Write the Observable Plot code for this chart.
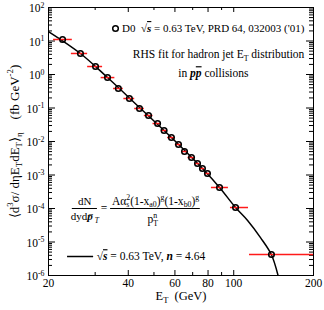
<!DOCTYPE html>
<html><head><meta charset="utf-8">
<script src="https://cdn.jsdelivr.net/npm/d3@7"></script>
<script src="https://cdn.jsdelivr.net/npm/@observablehq/plot@0.6"></script>
<style>body{margin:0;background:#fff}</style>
</head><body><div id="chart"></div>
<script>
// D0 sqrt(s)=0.63 TeV jet E_T distribution
const etCenter = [22.6, 26.4, 30.1, 33.4, 36.7, 40.4, 44.1, 47.7, 51.6, 54.6, 58.2, 61.9, 65.2, 69.3, 73.0, 76.2, 79.6, 88.4, 101.6, 138.8];
const etLow    = [20.9, 24.4, 28.1, 31.6, 35.2, 38.5, 42.3, 46.0, 49.6, 53.3, 56.3, 60.2, 63.6, 67.2, 71.1, 74.6, 77.8, 82.4, 97.2, 114.7];
const etHigh   = [24.6, 28.1, 32.0, 35.6, 38.3, 42.3, 46.0, 49.6, 53.3, 56.3, 60.2, 63.6, 67.2, 71.1, 74.6, 77.8, 81.6, 95.5, 113.7, 200];
const crossSec = [11.1, 4.24, 1.73, 0.81, 0.382, 0.192, 0.0966, 0.0597, 0.0344, 0.0213, 0.01315, 0.00813, 0.00502, 0.00333, 0.0022, 0.00156, 0.00111, 4.24e-4, 1.07e-4, 4.24e-6];
// fitted curve
const fitEt    = [20, 26.4, 33.4, 44.1, 58.2, 76.2, 88.4, 101.6, 112.8, 126.2, 138.5, 147];
const fitValue = [19.2, 4.24, 0.81, 0.1035, 0.0131, 0.00156, 4.24e-4, 1.07e-4, 4.38e-5, 1.35e-5, 4.3e-6, 1e-6];
// ticks
const xLabelTicks = [20, 40, 60, 80, 100, 200];
const xMinorTicks = [30, 50, 70, 90];
const yDecades = [-6, -5, -4, -3, -2, -1, 0, 1, 2];

const W = 324, H = 310, mL = 48, mR = 11, mT = 7, mB = 35;
const fw = W - mL - mR, fh = H - mT - mB;

const points = etCenter.map((e, i) => ({e, lo: etLow[i], hi: etHigh[i], v: crossSec[i]}));
const fit = fitEt.map((e, i) => ({e, v: fitValue[i]}));
const yMajor = yDecades.map(k => Math.pow(10, k));
const yMinor = [];
yDecades.slice(0, -1).forEach(k => { for (let m = 2; m <= 9; m++) yMinor.push(m * Math.pow(10, k)); });

const serif = "Liberation Serif";
const chart = Plot.plot({
  width: W, height: H,
  marginLeft: mL, marginRight: mR, marginTop: mT, marginBottom: mB,
  style: {fontFamily: serif, fontSize: "11px", background: "white", color: "black"},
  x: {type: "log", domain: [20, 200], axis: null},
  y: {type: "log", domain: [1e-6, 1e2], axis: null},
  marks: [
    // ticks (inward, mirrored)
    Plot.tickY(yMajor, {y: d => d, insetRight: fw - 7, stroke: "black"}),
    Plot.tickY(yMajor, {y: d => d, insetLeft: fw - 7, stroke: "black"}),
    Plot.tickY(yMinor, {y: d => d, insetRight: fw - 4, stroke: "black"}),
    Plot.tickY(yMinor, {y: d => d, insetLeft: fw - 4, stroke: "black"}),
    Plot.tickX(xLabelTicks, {x: d => d, insetTop: fh - 5, stroke: "black"}),
    Plot.tickX(xLabelTicks, {x: d => d, insetBottom: fh - 5, stroke: "black"}),
    Plot.tickX(xMinorTicks, {x: d => d, insetTop: fh - 3, stroke: "black"}),
    Plot.tickX(xMinorTicks, {x: d => d, insetBottom: fh - 3, stroke: "black"}),
    Plot.frame({stroke: "black", strokeWidth: 1}),
    // tick labels
    Plot.text(yMajor, {x: 20, y: d => d, text: d => "10^{" + Math.round(Math.log10(d)) + "}", textAnchor: "end", dx: -4, dy: 1, fontSize: 11.5}),
    Plot.text(xLabelTicks, {x: d => d, y: 1e-6, text: d => String(d), dy: 8, fontSize: 11.5}),
    // fit curve
    Plot.line(fit, {x: "e", y: "v", curve: "catmull-rom", stroke: "black", strokeWidth: 1.5, clip: true}),
    // data
    Plot.ruleY(points, {x1: "lo", x2: "hi", y: "v", stroke: "#ff1a1a", strokeWidth: 1.5}),
    Plot.dot(points, {x: "e", y: "v", r: 2.8, stroke: "black", strokeWidth: 1.5, fill: "none"}),
    // top legend
    Plot.dot([{e: 35.8, v: 23.6}], {x: "e", y: "v", r: 2.8, stroke: "black", strokeWidth: 1.5, fill: "none"}),
    Plot.text(["D0  √&{s} = 0.63 TeV, PRD 64, 032003 ('01)"], {x: 37.9, y: 23.6, textAnchor: "start", fontSize: 11}),
    Plot.text(["RHS fit for hadron jet E_{T} distribution"], {x: 87.7, y: 3.95, fontSize: 11.5}),
    Plot.text(["in #{p}&{p} collisions"], {x: 83.8, y: 1.07, fontSize: 11.5}),
    // formula
    Plot.text(["dN"], {x: 27.4, y: 1e-4, lineAnchor: "bottom", dy: -4, fontSize: 11}),
    Plot.ruleY([1e-4], {x1: 24.6, x2: 30.6, stroke: "black", strokeWidth: 1}),
    Plot.text(["dyd#{p}@{→}~{T}"], {x: 27.4, y: 1e-4, lineAnchor: "top", dy: 4, fontSize: 11}),
    Plot.text(["="], {x: 32.4, y: 1e-4, fontSize: 11.5}),
    Plot.text(["Aα_{s}@{2}(1-x_{a0})^{g}(1-x_{b0})^{g}"], {x: 50.7, y: 1e-4, lineAnchor: "bottom", dy: -4, fontSize: 11.5}),
    Plot.ruleY([1e-4], {x1: 34.3, x2: 74.8, stroke: "black", strokeWidth: 1}),
    Plot.text(["p_{T}@{n}"], {x: 49.5, y: 1e-4, lineAnchor: "top", dy: 6, fontSize: 11.5}),
    // curve legend
    Plot.ruleY([3.69e-6], {x1: 23.6, x2: 29.6, stroke: "black", strokeWidth: 1.5}),
    Plot.text(["√&{s} = 0.63 TeV, #{n} = 4.64"], {x: 30.4, y: 3.69e-6, textAnchor: "start", fontSize: 11.5}),
    // axis titles
    Plot.text(["E_{T}  (GeV)"], {frameAnchor: "bottom", dy: 24, fontSize: 12.5}),
    Plot.text(["⟨d^{3}σ/ dηE_{T}dE_{T}⟩_{η}\u00a0\u00a0\u00a0\u00a0(fb GeV^{-2})"], {x: 20, y: 0.01, dx: -34, rotate: -90, fontSize: 13})
  ]
});
document.getElementById("chart").appendChild(chart);

// rich text: ^{} sup, _{} sub, @{} stacked sup, ~{} italic sub, ${} italic, #{} bold italic, &{} bold italic overline
function richify(svg) {
  const NS = "http://www.w3.org/2000/svg";
  svg.querySelectorAll("text").forEach(t => {
    const s = t.textContent;
    if (!/[\^_$#&~@]\{/.test(s)) return;
    const fs = parseFloat(getComputedStyle(t).fontSize) || 11;
    while (t.firstChild) t.removeChild(t.firstChild);
    const re = /([\^_$#&~@])\{([^}]*)\}/g;
    let last = 0, m, cur = 0, prev = null;
    const add = (str, k) => {
      if (!str) return;
      const ts = document.createElementNS(NS, "tspan");
      let off = 0, size = null;
      if (k === "^" || k === "@") { off = -0.4 * fs; size = 0.68 * fs; }
      else if (k === "_" || k === "~") { off = 0.25 * fs; size = 0.68 * fs; }
      if (size) ts.setAttribute("font-size", size);
      if (k && "$~#&".includes(k)) ts.setAttribute("font-style", "italic");
      if (k && "#&".includes(k)) ts.setAttribute("font-weight", "bold");
      if (k === "&") ts.setAttribute("text-decoration", "overline");
      if (off !== cur) { ts.setAttribute("dy", off - cur); cur = off; }
      ts.textContent = str;
      t.appendChild(ts);
      if (k === "@" && prev) ts.setAttribute("dx", -prev.getComputedTextLength());
      prev = ts;
    };
    while ((m = re.exec(s))) { add(s.slice(last, m.index), ""); add(m[2], m[1]); last = re.lastIndex; }
    add(s.slice(last), "");
  });
}
richify(chart);
</script>
</body></html>
